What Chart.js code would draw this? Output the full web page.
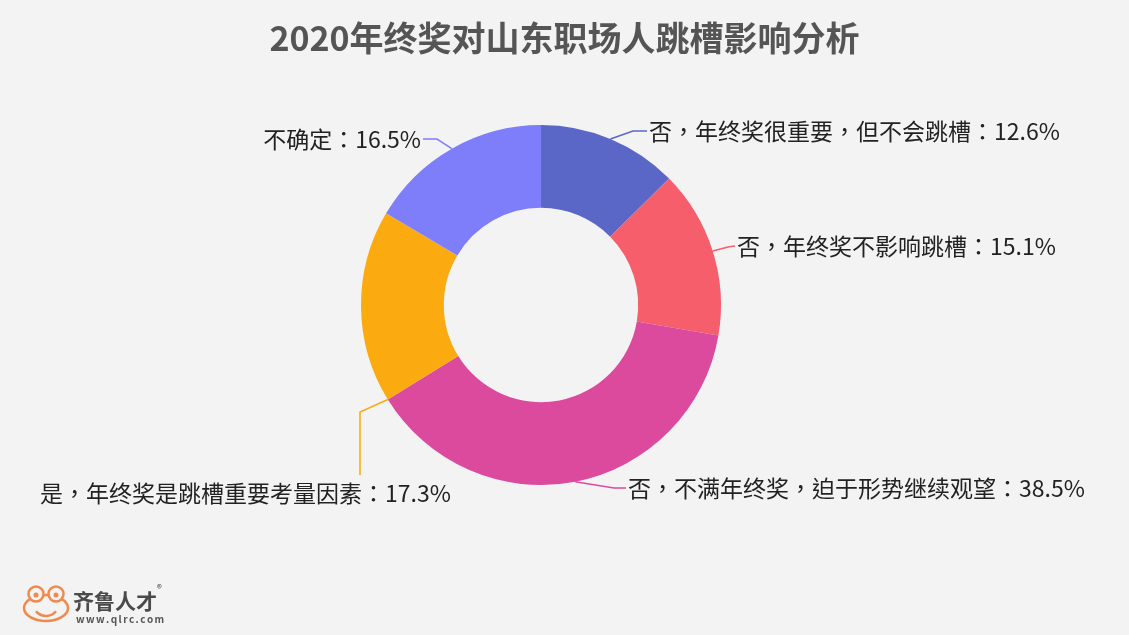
<!DOCTYPE html>
<html>
<head>
<meta charset="utf-8">
<script src="https://cdn.jsdelivr.net/npm/chart.js@4/dist/chart.umd.min.js"></script>
<style>
  html, body { margin: 0; padding: 0; background: #f3f3f3; }
  #wrap { width: 1129px; height: 635px; }
</style>
</head>
<body>
<div id="wrap"><canvas id="c" width="1129" height="635"></canvas></div>
<script>
// ---------- data ----------
const title = '2020年终奖对山东职场人跳槽影响分析';
const categories = [
  '否，年终奖很重要，但不会跳槽',
  '否，年终奖不影响跳槽',
  '否，不满年终奖，迫于形势继续观望',
  '是，年终奖是跳槽重要考量因素',
  '不确定'
];
const values = [12.6, 15.1, 38.5, 17.3, 16.5];
const colors = ['#5b67c7', '#f75e6b', '#dc4a9e', '#fbaa10', '#7e7efb'];

const FONT = "'Noto Sans CJK SC', 'Noto Sans', sans-serif";
const LABEL_FONT = "'Noto Sans CJK TC', 'Noto Sans CJK SC', sans-serif";

// where each outside label sits (layout only)
const labelLayout = [
  { at: 0.5, elbow: [633, 131], textX: 649, textY: 131, align: 'left' },
  { at: 0.5, elbow: [728, 247], textX: 737, textY: 246, align: 'left' },
  { at: 0.5, elbow: [614, 488], textX: 628, textY: 488, align: 'left' },
  { at: 0.0, elbow: [360, 412], end: [360, 475], textX: 40, textY: 493, align: 'left' },
  { at: 0.5, elbow: [437, 139], textX: 421, textY: 139, align: 'right' }
];

// ---------- title (centred on the page, not on the doughnut) ----------
const pageTitle = {
  id: 'pageTitle',
  afterDraw(chart) {
    const ctx = chart.ctx;
    ctx.save();
    ctx.font = 'bold 34px ' + FONT;
    ctx.fillStyle = '#555';
    ctx.textAlign = 'center';
    ctx.textBaseline = 'middle';
    ctx.fillText(title, chart.width / 2, 38);
    ctx.restore();
  }
};

// ---------- outside labels with leader lines ----------
const outsideLabels = {
  id: 'outsideLabels',
  afterDatasetsDraw(chart) {
    const ctx = chart.ctx;
    const arcs = chart.getDatasetMeta(0).data;
    ctx.save();
    ctx.font = '23px ' + LABEL_FONT;
    ctx.textBaseline = 'middle';
    arcs.forEach((arc, i) => {
      const p = arc.getProps(['x', 'y', 'startAngle', 'endAngle', 'outerRadius'], true);
      const L = labelLayout[i];
      const a = p.startAngle + (p.endAngle - p.startAngle) * L.at;
      const ax = p.x + Math.cos(a) * p.outerRadius;
      const ay = p.y + Math.sin(a) * p.outerRadius;

      ctx.strokeStyle = colors[i];
      ctx.lineWidth = 1.5;
      ctx.beginPath();
      ctx.moveTo(ax, ay);
      ctx.lineTo(L.elbow[0], L.elbow[1]);
      if (L.end) {
        ctx.lineTo(L.end[0], L.end[1]);
      } else {
        ctx.lineTo(L.align === 'left' ? L.textX - 2 : L.textX + 2, L.textY);
      }
      ctx.stroke();

      ctx.fillStyle = '#222';
      ctx.textAlign = L.align;
      ctx.fillText(categories[i] + '：' + values[i].toFixed(1) + '%', L.textX, L.textY);
    });
    ctx.restore();
  }
};

// ---------- logo bottom left ----------
const logo = {
  id: 'logo',
  afterDraw(chart) {
    const ctx = chart.ctx;
    ctx.save();
    ctx.strokeStyle = '#ef8a4c';
    ctx.lineWidth = 2.5;
    // face
    ctx.beginPath();
    ctx.ellipse(46, 608, 22, 13, 0, 0, Math.PI * 2);
    ctx.stroke();
    // eyes
    [[36, 594], [56, 594]].forEach(e => {
      ctx.beginPath();
      ctx.arc(e[0], e[1], 7.5, 0, Math.PI * 2);
      ctx.fillStyle = '#f3f3f3';
      ctx.fill();
      ctx.stroke();
      ctx.beginPath();
      ctx.fillStyle = '#ef8a4c';
      ctx.arc(e[0], e[1] + 1, 2.5, 0, Math.PI * 2);
      ctx.fill();
    });
    // smile
    ctx.beginPath();
    ctx.arc(46, 603, 13, 0.22 * Math.PI, 0.78 * Math.PI);
    ctx.stroke();

    ctx.fillStyle = '#4a4a4a';
    ctx.textBaseline = 'middle';
    ctx.textAlign = 'left';
    ctx.font = 'bold 21px ' + FONT;
    ctx.fillText('齐鲁人才', 73, 601);
    ctx.font = '10px ' + FONT;
    ctx.fillText('®', 157, 588);
    ctx.font = 'bold 10px ' + FONT;
    ctx.fillStyle = '#555';
    const url = 'www.qlrc.com';
    let x = 76;
    for (const ch of url) {
      ctx.fillText(ch, x, 619);
      x += ctx.measureText(ch).width + 1.4;
    }
    ctx.restore();
  }
};

new Chart(document.getElementById('c'), {
  type: 'doughnut',
  data: {
    labels: categories,
    datasets: [{
      data: values,
      backgroundColor: colors,
      borderWidth: 0
    }]
  },
  options: {
    responsive: false,
    animation: false,
    radius: 180,
    cutout: '54%',
    layout: { padding: { left: 0, right: 47, top: 59, bottom: 84 } },
    plugins: {
      legend: { display: false },
      tooltip: { enabled: false },
      title: { display: false }
    }
  },
  plugins: [pageTitle, outsideLabels, logo]
});
</script>
</body>
</html>
